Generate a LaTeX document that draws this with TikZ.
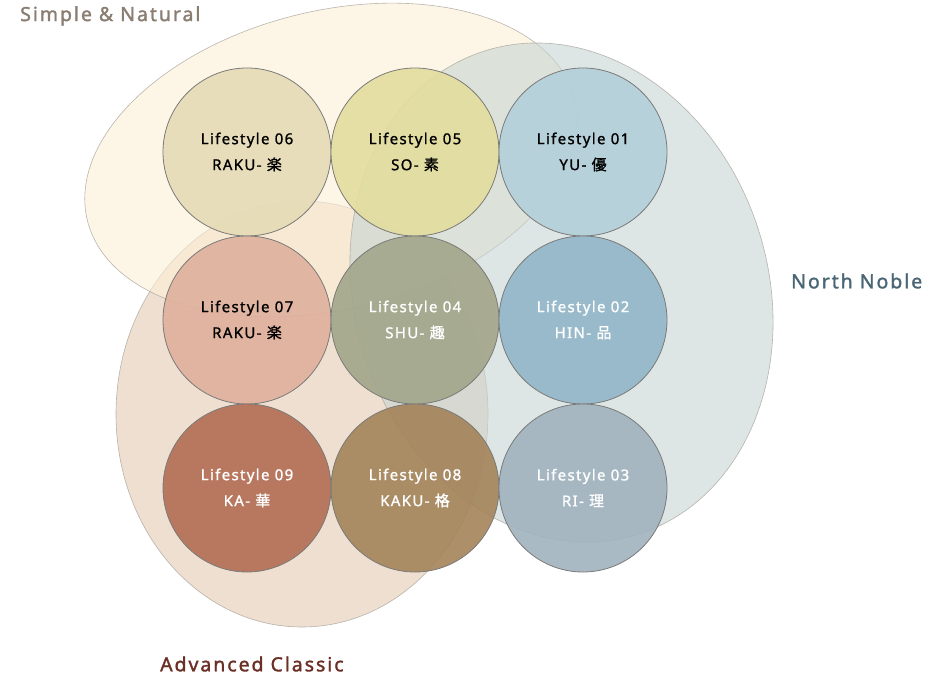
\documentclass[tikz,border=0pt]{standalone}
\usepackage{fontspec}
\setmainfont{Noto Sans}
\newfontfamily\jp[FakeBold=1.2]{Noto Sans CJK JP}
\newfontfamily\lsfont[LetterSpace=9, FakeBold=1.2]{Noto Sans}
\newfontfamily\labfont[LetterSpace=10, FakeBold=1.6]{Noto Sans}
\definecolor{snC}{HTML}{FCF0D7}
\definecolor{nnC}{HTML}{C6D5D2}
\definecolor{acC}{HTML}{E4CAB2}
\definecolor{ebord}{HTML}{A8A49C}
\definecolor{cbord}{HTML}{7A7A78}
\definecolor{c06}{HTML}{E6DBB6}
\definecolor{c05}{HTML}{E3DD9E}
\definecolor{c01}{HTML}{B3CFDA}
\definecolor{c07}{HTML}{DFB09C}
\definecolor{c04}{HTML}{A2A68A}
\definecolor{c02}{HTML}{92B6C8}
\definecolor{c09}{HTML}{B26E55}
\definecolor{c08}{HTML}{A4835A}
\definecolor{c03}{HTML}{A0B2BF}
\definecolor{snT}{HTML}{8A7E72}
\definecolor{nnT}{HTML}{4A6574}
\definecolor{acT}{HTML}{6B2F25}
\begin{document}
\begin{tikzpicture}[x=1pt,y=-1pt,
  region/.style={draw=ebord, line width=0.6pt, fill opacity=0.6, draw opacity=0.8},
  life/.style={circle, minimum size=168pt, inner sep=0pt, draw=cbord, line width=0.8pt,
    fill opacity=0.9, text opacity=1, align=center,
    font=\lsfont\fontsize{15}{26}\selectfont},
  lab/.style={anchor=west, inner sep=0pt, font=\labfont\fontsize{19.5}{22}\selectfont}]
\useasboundingbox (0,0) rectangle (944,676);
% regions
\path[region, fill=acC] (302,414) ellipse [x radius=186pt, y radius=213pt];
\path[region, fill=snC, rotate around={14:(331,160)}] (331,160) ellipse [x radius=251pt, y radius=149pt];
\path[region, fill=nnC, rotate around={17.8:(561.5,292.5)}] (561.5,292.5) ellipse [x radius=206.7pt, y radius=253.5pt];
% lifestyle circles
\node[life, fill=c06, text=black] (l06) at (247,152) {Lifestyle 06\\RAKU- {\jp 楽}};
\node[life, fill=c05, text=black] (l05) at (415,152) {Lifestyle 05\\SO- {\jp 素}};
\node[life, fill=c01, text=black] (l01) at (583,152) {Lifestyle 01\\YU- {\jp 優}};
\node[life, fill=c07, text=black] (l07) at (247,320) {Lifestyle 07\\RAKU- {\jp 楽}};
\node[life, fill=c04, text=white] (l04) at (415,320) {Lifestyle 04\\SHU- {\jp 趣}};
\node[life, fill=c02, text=white] (l02) at (583,320) {Lifestyle 02\\HIN- {\jp 品}};
\node[life, fill=c09, text=white] (l09) at (247,488) {Lifestyle 09\\KA- {\jp 華}};
\node[life, fill=c08, text=white] (l08) at (415,488) {Lifestyle 08\\KAKU- {\jp 格}};
\node[life, fill=c03, text=white] (l03) at (583,488) {Lifestyle 03\\RI- {\jp 理}};
% labels
\node[lab, text=snT] (lsn) at (20,16) {Simple \& Natural};
\node[lab, text=nnT] (lnn) at (791,281) {North Noble};
\node[lab, text=acT] (lac) at (160,664) {Advanced Classic};
\end{tikzpicture}
\end{document}
